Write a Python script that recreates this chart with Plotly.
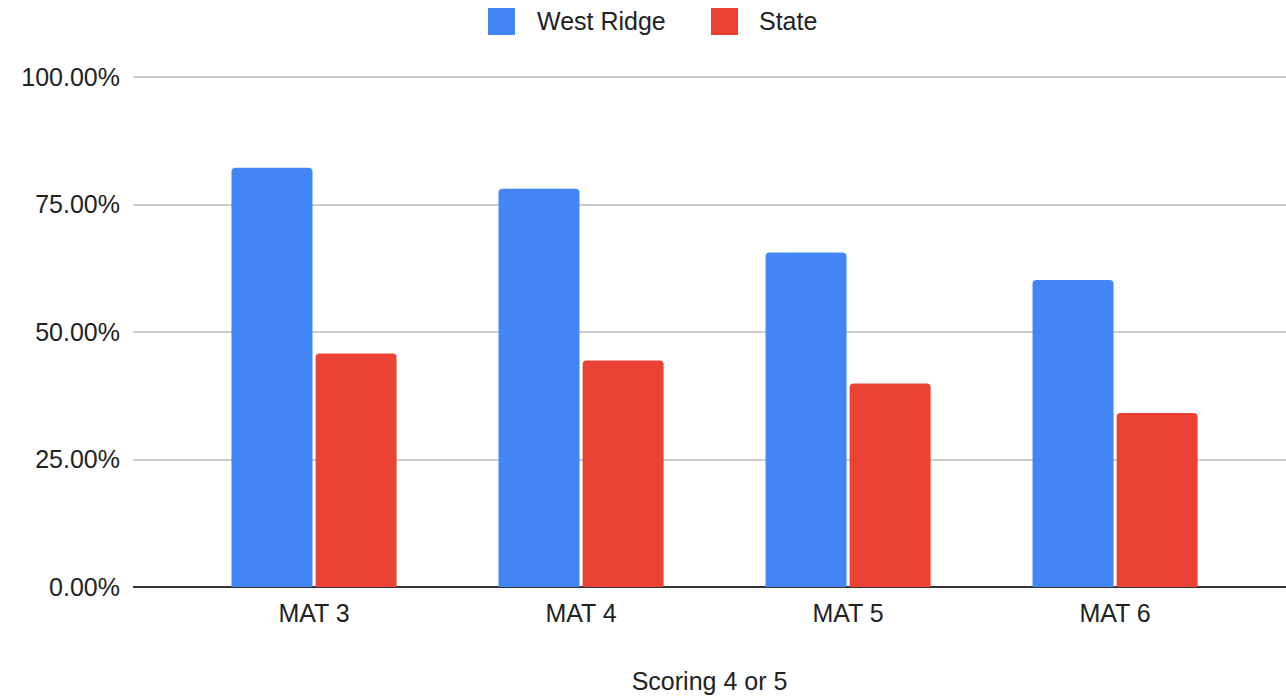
import plotly.graph_objects as go

categories = ["MAT 3", "MAT 4", "MAT 5", "MAT 6"]
west_ridge = [82.2, 78.1, 65.6, 60.2]
state = [45.8, 44.4, 39.9, 34.1]
series_names = ["West Ridge", "State"]
colors = ["#4285F4", "#EA4335"]
y_ticks = [0, 25, 50, 75, 100]
y_tick_labels = ["0.00%", "25.00%", "50.00%", "75.00%", "100.00%"]

W, H = 1286, 697
ML, MR, MT, MB = 133, 0, 76, 110
PW, PH = W - ML - MR, H - MT - MB
YMAX = 100.2

def px2x(px):
    return (px - ML) / PW

def py2y(py):
    return (H - MB - py) / PH

FONT = "Liberation Sans, Arial, sans-serif"
TXT = "#222222"
FS = 25

fig = go.Figure()
for name, vals, c in zip(series_names, [west_ridge, state], colors):
    fig.add_trace(go.Bar(x=list(range(len(categories))), y=vals, name=name,
                         marker=dict(color=c, line=dict(width=0), cornerradius=4),
                         showlegend=False))

# manual legend
leg = [(488, 535, series_names[0], colors[0]), (711, 757, series_names[1], colors[1])]
for sx, tx, name, c in leg:
    fig.add_shape(type="rect", xref="paper", yref="paper",
                  x0=px2x(sx), x1=px2x(sx + 27), y0=py2y(35), y1=py2y(8),
                  fillcolor=c, line=dict(width=0), layer="above")
    fig.add_annotation(xref="paper", yref="paper", x=px2x(tx), y=py2y(21.5),
                       text=name, showarrow=False, xanchor="left", yanchor="middle",
                       font=dict(family=FONT, size=FS, color=TXT))

fig.update_layout(
    width=W, height=H,
    margin=dict(l=ML, r=MR, t=MT, b=MB, pad=0),
    paper_bgcolor="white", plot_bgcolor="white",
    bargap=0.37, bargroupgap=0.037,
    barmode="group",
    font=dict(family=FONT, size=FS, color=TXT),
)
fig.update_xaxes(
    range=[-0.678, 3.64],
    tickmode="array", tickvals=list(range(len(categories))), ticktext=categories,
    showgrid=False, showline=False, zeroline=False, ticks="",
    ticklabelstandoff=9,
    tickfont=dict(family=FONT, size=FS, color=TXT),
    title=dict(text="Scoring 4 or 5", font=dict(family=FONT, size=FS, color=TXT), standoff=46),
)
fig.update_yaxes(
    range=[0, YMAX],
    tickmode="array", tickvals=y_ticks, ticktext=y_tick_labels,
    showgrid=True, gridcolor="#cccccc", gridwidth=2,
    zeroline=True, zerolinecolor="#333333", zerolinewidth=2,
    showline=False, ticks="",
    ticklabelstandoff=12,
    tickfont=dict(family=FONT, size=FS, color=TXT),
)

fig.write_html(
    "out.html",
    config={"displayModeBar": False},
    post_script="document.body.style.margin='0';document.body.style.overflow='hidden';",
)
